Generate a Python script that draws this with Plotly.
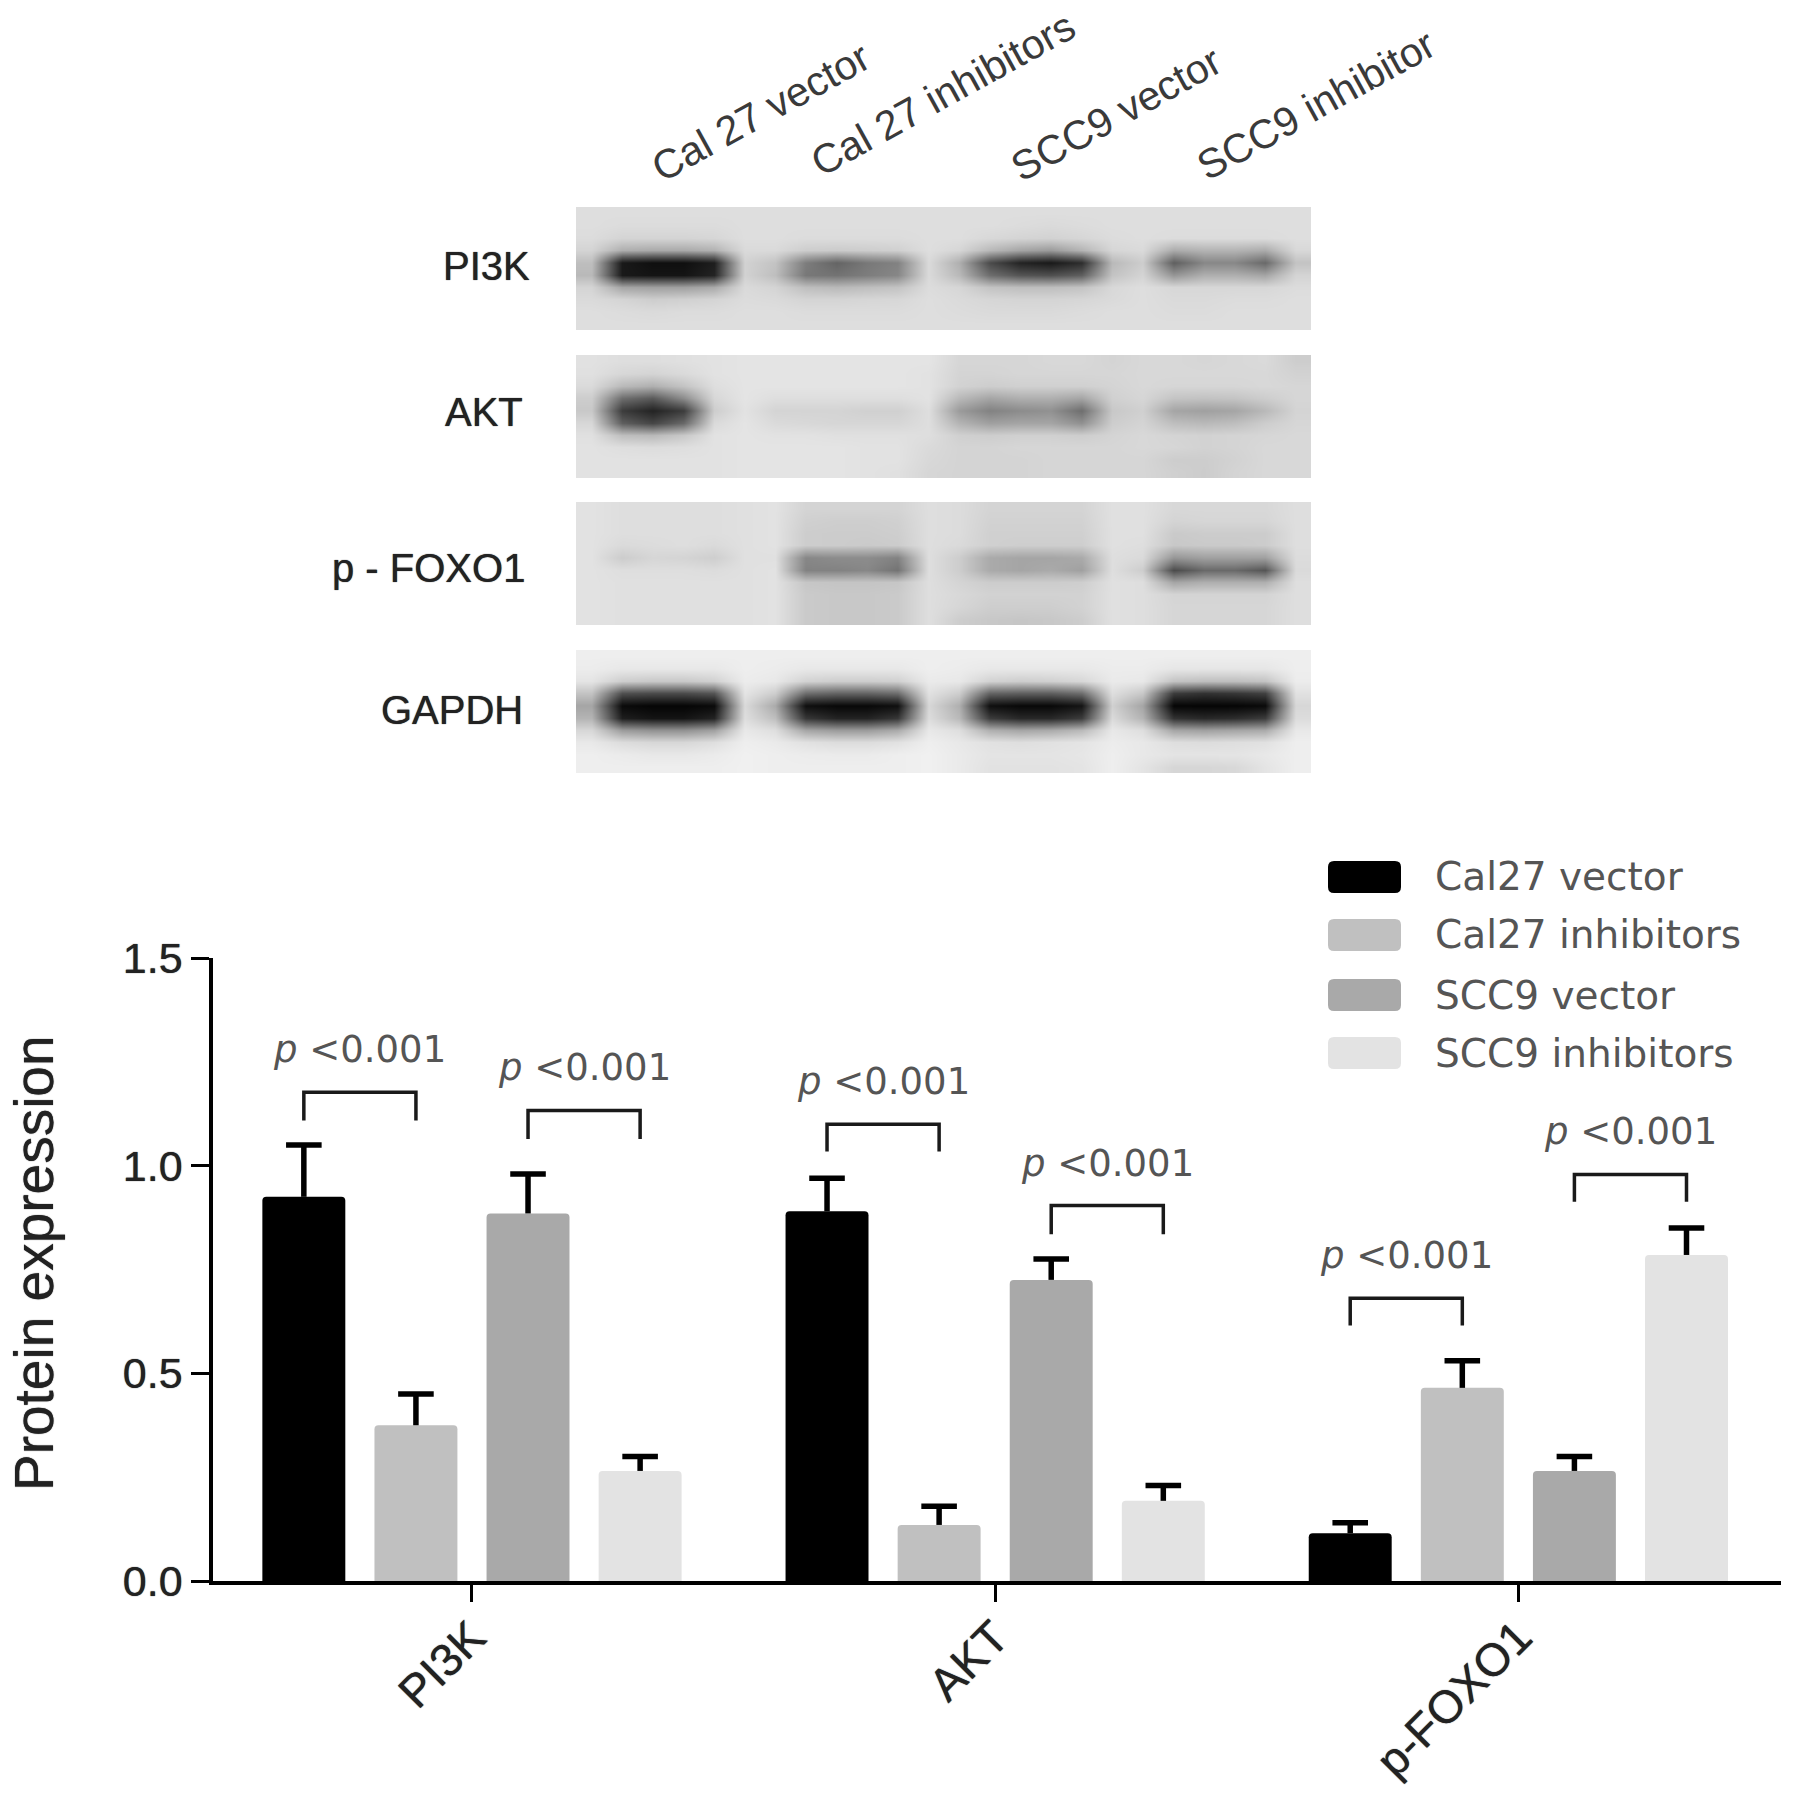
import plotly.graph_objects as go

W, H = 1795, 1794

# bar chart data
proteins = ["PI3K", "AKT", "p-FOXO1"]
series_names = ["Cal27 vector", "Cal27 inhibitors", "SCC9 vector", "SCC9 inhibitors"]
series_colors = ["#000000", "#c0c0c0", "#a9a9a9", "#e3e3e3"]

cal27_vector = [0.925, 0.89, 0.115]
cal27_inhibitors = [0.375, 0.135, 0.465]
scc9_vector = [0.885, 0.725, 0.265]
scc9_inhibitors = [0.265, 0.193, 0.785]

cal27_vector_top = [1.05, 0.97, 0.14]
cal27_inhibitors_top = [0.45, 0.18, 0.53]
scc9_vector_top = [0.98, 0.775, 0.30]
scc9_inhibitors_top = [0.30, 0.23, 0.85]

# significance brackets: group, first bar, second bar, top, tip
bracket_group = [0, 0, 1, 1, 2, 2]
bracket_first = [0, 2, 0, 2, 0, 2]
bracket_top = [1.177, 1.133, 1.10, 0.904, 0.681, 0.979]
bracket_tip = [1.109, 1.064, 1.034, 0.835, 0.615, 0.913]
p_label = "<i>p</i> &lt;0.001"

# western blot panels (grey levels)
lane_labels = ["Cal 27 vector", "Cal 27 inhibitors", "SCC9 vector", "SCC9 inhibitor"]
blot_labels = ["PI3K", "AKT", "p - FOXO1", "GAPDH"]

blot_pi3k = [
    [222, 222, 222, 222, 222, 222, 222, 222, 222, 222, 222, 222, 222, 222, 222, 222, 222, 222, 222, 222, 222, 222, 222, 222],
    [222, 220, 220, 220, 220, 222, 222, 222, 222, 222, 222, 222, 222, 222, 220, 218, 220, 222, 222, 222, 222, 222, 222, 222],
    [220, 212, 212, 212, 214, 222, 222, 220, 220, 220, 220, 222, 222, 216, 212, 210, 214, 220, 222, 220, 220, 220, 220, 222],
    [212, 175, 170, 170, 178, 218, 218, 205, 203, 205, 208, 222, 214, 185, 165, 155, 180, 214, 218, 172, 180, 180, 172, 216],
    [190, 25, 15, 15, 30, 210, 195, 125, 100, 120, 130, 218, 175, 75, 35, 25, 45, 185, 205, 95, 135, 135, 105, 195],
    [185, 25, 20, 20, 35, 210, 190, 120, 115, 125, 135, 218, 185, 110, 85, 80, 95, 195, 212, 150, 175, 175, 165, 212],
    [212, 165, 160, 160, 170, 218, 212, 190, 185, 190, 195, 220, 214, 195, 190, 190, 195, 216, 222, 215, 215, 215, 215, 220],
    [218, 212, 205, 208, 212, 220, 218, 212, 212, 214, 215, 222, 218, 214, 212, 212, 214, 218, 222, 218, 218, 220, 220, 222],
    [222, 220, 218, 220, 220, 222, 222, 220, 220, 220, 220, 222, 220, 218, 218, 218, 220, 222, 222, 220, 220, 222, 222, 222],
    [222, 222, 222, 222, 222, 222, 222, 222, 222, 222, 222, 222, 222, 222, 222, 222, 222, 222, 222, 222, 222, 222, 222, 222],
]
blot_akt = [
    [225, 222, 222, 224, 226, 228, 228, 228, 228, 228, 228, 228, 214, 214, 214, 216, 216, 212, 216, 216, 214, 216, 218, 205],
    [224, 215, 212, 218, 226, 228, 228, 228, 228, 228, 228, 226, 212, 212, 214, 214, 214, 214, 216, 216, 216, 216, 216, 210],
    [218, 185, 175, 195, 222, 228, 228, 228, 228, 228, 228, 226, 210, 205, 208, 208, 208, 212, 216, 214, 214, 214, 216, 214],
    [205, 110, 90, 140, 215, 228, 222, 222, 222, 222, 222, 226, 185, 165, 175, 175, 165, 208, 214, 196, 194, 196, 205, 214],
    [200, 60, 35, 60, 205, 226, 212, 212, 212, 208, 208, 222, 155, 130, 140, 145, 110, 200, 208, 165, 160, 165, 185, 212],
    [215, 95, 70, 105, 218, 228, 218, 216, 214, 214, 214, 222, 180, 160, 165, 165, 145, 205, 212, 190, 185, 190, 205, 214],
    [224, 190, 185, 200, 226, 228, 226, 226, 224, 224, 224, 222, 208, 205, 208, 208, 205, 212, 216, 212, 210, 212, 214, 216],
    [226, 222, 220, 222, 226, 228, 228, 228, 228, 226, 226, 218, 212, 212, 214, 214, 214, 214, 216, 214, 210, 212, 216, 216],
    [226, 226, 226, 226, 226, 228, 228, 228, 228, 226, 226, 216, 212, 212, 212, 214, 214, 214, 214, 205, 205, 210, 216, 216],
    [226, 226, 226, 226, 226, 228, 228, 228, 228, 226, 224, 214, 212, 212, 212, 214, 214, 214, 214, 208, 204, 212, 216, 216],
]
blot_foxo = [
    [226, 222, 222, 222, 222, 224, 226, 212, 212, 212, 212, 222, 220, 212, 212, 212, 212, 224, 224, 216, 216, 216, 216, 222],
    [226, 222, 222, 222, 222, 224, 226, 208, 206, 206, 208, 222, 220, 210, 210, 210, 210, 224, 224, 212, 214, 214, 214, 222],
    [226, 222, 222, 222, 222, 224, 226, 205, 204, 204, 206, 222, 220, 208, 208, 208, 208, 224, 224, 202, 204, 204, 204, 222],
    [226, 218, 220, 222, 218, 224, 226, 205, 204, 202, 204, 222, 218, 208, 206, 206, 206, 224, 222, 200, 202, 202, 204, 222],
    [226, 204, 214, 212, 206, 224, 224, 135, 140, 140, 130, 222, 205, 170, 165, 165, 170, 222, 218, 150, 160, 160, 160, 220],
    [226, 222, 222, 222, 220, 224, 226, 130, 130, 135, 115, 222, 205, 170, 165, 170, 160, 222, 205, 75, 105, 105, 85, 218],
    [226, 224, 224, 224, 224, 224, 226, 198, 196, 196, 198, 222, 212, 204, 204, 204, 206, 224, 222, 165, 175, 175, 175, 222],
    [226, 224, 224, 224, 224, 224, 226, 202, 200, 200, 202, 222, 216, 210, 210, 210, 210, 224, 222, 212, 212, 212, 212, 222],
    [226, 224, 224, 224, 224, 224, 226, 202, 200, 200, 202, 222, 214, 206, 206, 206, 210, 224, 222, 214, 214, 214, 214, 222],
    [226, 224, 224, 224, 224, 224, 226, 202, 200, 200, 202, 222, 205, 200, 198, 200, 205, 224, 222, 214, 214, 214, 214, 222],
]
blot_gapdh = [
    [238, 238, 238, 238, 238, 238, 238, 238, 238, 238, 238, 238, 238, 238, 238, 238, 238, 238, 238, 238, 238, 238, 238, 238],
    [236, 232, 232, 232, 232, 238, 236, 232, 232, 232, 232, 238, 236, 232, 232, 232, 232, 236, 236, 230, 230, 230, 230, 238],
    [228, 205, 200, 200, 208, 236, 232, 210, 205, 205, 208, 234, 232, 210, 205, 208, 215, 234, 232, 195, 190, 190, 195, 236],
    [195, 80, 75, 75, 85, 228, 205, 110, 100, 100, 110, 225, 205, 100, 95, 95, 110, 222, 200, 60, 50, 55, 65, 225],
    [165, 10, 5, 5, 10, 218, 170, 15, 8, 8, 15, 215, 175, 15, 8, 8, 20, 208, 165, 5, 5, 5, 10, 215],
    [180, 30, 20, 20, 35, 222, 190, 55, 35, 35, 55, 220, 185, 60, 40, 40, 60, 218, 180, 50, 40, 45, 60, 220],
    [215, 155, 145, 145, 160, 232, 222, 165, 155, 155, 170, 232, 222, 175, 165, 170, 185, 232, 222, 165, 160, 165, 170, 232],
    [232, 220, 215, 215, 222, 238, 234, 225, 220, 220, 225, 238, 232, 225, 222, 225, 228, 236, 232, 222, 220, 222, 225, 238],
    [238, 235, 232, 232, 235, 240, 238, 236, 235, 235, 238, 240, 234, 228, 228, 228, 230, 238, 232, 228, 228, 228, 232, 238],
    [238, 238, 238, 238, 238, 240, 238, 238, 238, 238, 238, 240, 234, 226, 226, 226, 228, 238, 228, 214, 214, 216, 228, 238],
]
blots = [blot_pi3k, blot_akt, blot_foxo, blot_gapdh]

# layout, in page pixels
PLOT_L, PLOT_R, PLOT_T, PLOT_B = 213, 1781, 958, 1581
BLOT_L, BLOT_R = 576, 1311
BLOT_TOPS = [207, 355, 502, 650]
BLOT_H = 123
BAR_GAP = 0.143
STEP = (1 - BAR_GAP) / 4
CAP = 0.034
TEXT = "#222222"
SOFT = "#555555"
SANS = "Liberation Sans, Arial, sans-serif"
WIDE = "DejaVu Sans, sans-serif"
HEAVY = "0 0 1px #222222"  # the reference's labels are a little heavier than regular


def px(x):
    return x / W


def py(y):
    return 1 - y / H


def rounded(x0, y0, x1, y1, r=6):
    """rounded rectangle path in paper coordinates"""
    a, b, c, d = px(x0), py(y0), px(x1), py(y1)
    rx, ry = r / W, r / H
    return (f"M{a + rx},{b} L{c - rx},{b} Q{c},{b} {c},{b - ry} L{c},{d + ry} Q{c},{d} {c - rx},{d} "
            f"L{a + rx},{d} Q{a},{d} {a},{d + ry} L{a},{b - ry} Q{a},{b} {a + rx},{b} Z")


fig = go.Figure()

values = [cal27_vector, cal27_inhibitors, scc9_vector, scc9_inhibitors]
tops = [cal27_vector_top, cal27_inhibitors_top, scc9_vector_top, scc9_inhibitors_top]

for name, color, vals in zip(series_names, series_colors, values):
    fig.add_trace(go.Bar(
        name=name, x=[0, 1, 2], y=vals,
        marker=dict(color=color, line=dict(width=0), cornerradius=4),
        showlegend=False,
    ))

# upper error bars (a bar error_y would also draw a cap on the bar top)
err_x, err_y = [], []
for s, (vals, top) in enumerate(zip(values, tops)):
    for g, (v, t) in enumerate(zip(vals, top)):
        c = g + (s - 1.5) * STEP
        err_x += [c, c, None, c - CAP, c + CAP, None]
        err_y += [v, t, None, t, t, None]
fig.add_trace(go.Scatter(x=err_x, y=err_y, mode="lines", showlegend=False,
                         line=dict(color="#000000", width=5.5), hoverinfo="skip"))

# brackets
annotations = []
for g, first, top, tip in zip(bracket_group, bracket_first, bracket_top, bracket_tip):
    x0 = g + (first - 1.5) * STEP
    x1 = x0 + STEP
    fig.add_trace(go.Scatter(x=[x0, x0, x1, x1], y=[tip, top, top, tip], mode="lines", showlegend=False,
                             line=dict(color="#1a1a1a", width=3.5), hoverinfo="skip"))
    annotations.append(dict(x=(x0 + x1) / 2, y=top, xref="x", yref="y", text=p_label, showarrow=False,
                            yanchor="bottom", yshift=19, font=dict(family=WIDE, size=37, color=SOFT)))

# blots as smoothed grey heatmaps
axes = {}
for i, (z, top) in enumerate(zip(blots, BLOT_TOPS)):
    n = i + 2
    fig.add_trace(go.Heatmap(z=z, xaxis=f"x{n}", yaxis=f"y{n}", zmin=0, zmax=255, zsmooth="best",
                             colorscale=[[0, "#000000"], [1, "#ffffff"]], showscale=False, hoverinfo="skip"))
    axes[f"xaxis{n}"] = dict(domain=[px(BLOT_L), px(BLOT_R)], visible=False, anchor=f"y{n}", automargin=False)
    axes[f"yaxis{n}"] = dict(domain=[py(top + BLOT_H), py(top)], visible=False, anchor=f"x{n}",
                             autorange="reversed", automargin=False)

# blot row labels
for label, right, y in zip(blot_labels, [532, 525, 527, 525], [266, 412, 568, 710]):
    annotations.append(dict(x=px(right), y=py(y), xref="paper", yref="paper", text=label, showarrow=False,
                            xanchor="right", yanchor="middle",
                            font=dict(family=SANS, size=40, color=TEXT, shadow=HEAVY)))

# blot lane labels
for label, x, y in zip(lane_labels, [761, 943, 1116, 1316], [112, 94, 114, 105]):
    annotations.append(dict(x=px(x), y=py(y), xref="paper", yref="paper", text=label, showarrow=False,
                            xanchor="center", yanchor="middle", textangle=-29,
                            font=dict(family=SANS, size=41, color="#3a3a3a")))

# y title
annotations.append(dict(x=px(34), y=py(1263), xref="paper", yref="paper", text="Protein expression",
                        showarrow=False, xanchor="center", yanchor="middle", textangle=-90,
                        font=dict(family=SANS, size=55, color=TEXT, shadow=HEAVY)))

# legend
shapes = []
for name, color, y0 in zip(series_names, series_colors, [861, 919, 979, 1037]):
    shapes.append(dict(type="path", xref="paper", yref="paper", path=rounded(1328, y0, 1401, y0 + 32),
                       fillcolor=color, line=dict(width=0)))
    annotations.append(dict(x=px(1433), y=py(y0 + 16), xref="paper", yref="paper", text=name, showarrow=False,
                            xanchor="left", yanchor="middle", font=dict(family=WIDE, size=39, color=SOFT)))

fig.update_layout(
    width=W, height=H,
    margin=dict(l=0, r=0, t=0, b=0),
    paper_bgcolor="white", plot_bgcolor="white",
    barmode="group", bargap=BAR_GAP, bargroupgap=0.26,
    showlegend=False,
    annotations=annotations, shapes=shapes,
    xaxis=dict(domain=[px(PLOT_L), px(PLOT_R)], range=[-0.495, 2.502], tickvals=[0, 1, 2], ticktext=proteins,
               tickangle=-45, ticks="outside", ticklen=17, tickwidth=3, tickcolor="#000000", automargin=False,
               ticklabelstandoff=-10,
               showline=True, linewidth=3.5, linecolor="#000000", showgrid=False, zeroline=False,
               tickfont=dict(family=SANS, size=46, color=TEXT, shadow=HEAVY)),
    yaxis=dict(domain=[py(PLOT_B), py(PLOT_T)], range=[0, 1.5], tickvals=[0, 0.5, 1, 1.5], automargin=False,
               ticktext=["0.0", "0.5", "1.0", "1.5"], ticks="outside", ticklen=18, tickwidth=3,
               tickcolor="#000000", showline=True, linewidth=3.5, linecolor="#000000", showgrid=False,
               zeroline=False, tickfont=dict(family=SANS, size=43, color=TEXT, shadow=HEAVY)),
    **axes,
)

fig.write_html("out.html", config=dict(displayModeBar=False), post_script="document.body.style.margin='0';")
